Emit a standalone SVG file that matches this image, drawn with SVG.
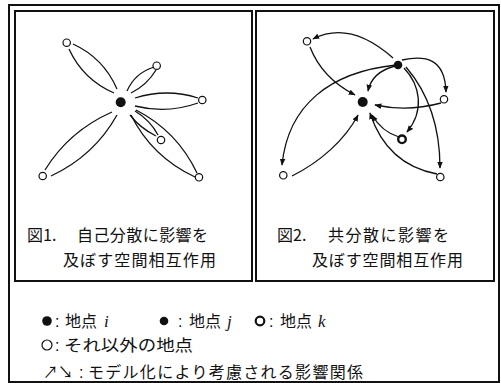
<svg xmlns="http://www.w3.org/2000/svg" width="501" height="383" viewBox="0 0 501 383">
<defs>
<style>
.frame{fill:none;stroke:#111;stroke-width:2}
.lens{fill:none;stroke:#111;stroke-width:1.3}
.arr{fill:none;stroke:#111;stroke-width:1.3;marker-end:url(#ah)}
.open{fill:#fff;stroke:#111;stroke-width:1.2}
.fill{fill:#111}
.ring{fill:#fff;stroke:#111;stroke-width:2.4}
.jp{font-family:"Noto Sans CJK JP","Noto Sans",sans-serif;font-size:16px;fill:#111}
.col{font-family:"Liberation Sans",sans-serif;font-size:16px;fill:#111}
.it{font-family:"Liberation Serif",serif;font-style:italic;font-size:17px;fill:#111}
</style>
<marker id="ah" viewBox="0 0 10 10" refX="9" refY="5" markerWidth="7" markerHeight="7" markerUnits="userSpaceOnUse" orient="auto">
<path d="M0,1 L10,5 L0,9 z" fill="#111"/>
</marker>
</defs>

<rect class="frame" x="9" y="5" width="490" height="377"/>
<rect class="frame" x="15" y="11" width="237" height="270"/>
<rect class="frame" x="256" y="11" width="238" height="270"/>

<!-- Figure 1 -->
<g id="fig1-connectors">
<path class="lens" d="M73,44 Q103.5,58 117,89"/>
<path class="lens" d="M69,49 Q83,79.5 114,93"/>
<path class="lens" d="M154,67 Q135,73 127,91"/>
<path class="lens" d="M156,70 Q147,85 131,93"/>
<path class="lens" d="M198,98 Q167,88 135,98"/>
<path class="lens" d="M198,103 Q167,114 135,106"/>
<path class="lens" d="M156,136 Q140,128 130,115"/>
<path class="lens" d="M158,135 Q150,120 135,111"/>
<path class="lens" d="M195,177 Q152,157 131,115"/>
<path class="lens" d="M197,173 Q177,131 136,110"/>
<path class="lens" d="M51,176 Q94,156 117,115"/>
<path class="lens" d="M45,170 Q69,131 112,112"/>
</g>
<g id="fig1-i"><circle class="fill" cx="120.7" cy="102.3" r="5"/></g>
<g id="fig1-n1"><circle class="open" cx="66.7" cy="42.7" r="3.7"/></g>
<g id="fig1-n2"><circle class="open" cx="156.7" cy="65.7" r="3.7"/></g>
<g id="fig1-n3"><circle class="open" cx="202.3" cy="100" r="3.7"/></g>
<g id="fig1-n4"><circle class="open" cx="161" cy="140" r="3.7"/></g>
<g id="fig1-n5"><circle class="open" cx="199" cy="177.3" r="3.7"/></g>
<g id="fig1-n6"><circle class="open" cx="42.7" cy="176" r="3.7"/></g>
<g id="fig1-caption">
<text class="jp" x="27" y="241">図1.</text>
<text class="jp" x="77" y="241" textLength="131" lengthAdjust="spacing">自己分散に影響を</text>
<text class="jp" x="63" y="266" textLength="153" lengthAdjust="spacing">及ぼす空間相互作用</text>
</g>

<!-- Figure 2 -->
<g id="fig2-connectors">
<path class="arr" d="M393,58 Q350,20 313,39"/>
<path class="arr" d="M310,47 Q322,78 355,95"/>
<path class="arr" d="M402,60 C425,55 445,58 446,92"/>
<path class="arr" d="M441,103 Q408,112 375,105"/>
<path class="arr" d="M395,66 Q372,72 368,91"/>
<path class="arr" d="M396,65 C330,72 288,105 282,165"/>
<path class="arr" d="M292,176 C320,162 345,140 358,115"/>
<path class="arr" d="M404,68 C420,85 425,110 407,132"/>
<path class="arr" d="M406,67 C430,95 440,130 440,168"/>
<path class="arr" d="M399,137 Q382,132 372,115"/>
<path class="arr" d="M437,174 C405,168 382,150 370,113"/>
</g>
<g id="fig2-i"><circle class="fill" cx="362.7" cy="102" r="5"/></g>
<g id="fig2-j"><circle class="fill" cx="398" cy="65" r="4.3"/></g>
<g id="fig2-k"><circle class="ring" cx="402" cy="139.3" r="3.8"/></g>
<g id="fig2-n1"><circle class="open" cx="307" cy="41.3" r="3.7"/></g>
<g id="fig2-n2"><circle class="open" cx="444" cy="99.3" r="3.7"/></g>
<g id="fig2-n3"><circle class="open" cx="283.3" cy="175.3" r="3.7"/></g>
<g id="fig2-n4"><circle class="open" cx="440.3" cy="177" r="3.7"/></g>
<g id="fig2-caption">
<text class="jp" x="277" y="241">図2.</text>
<text class="jp" x="328" y="241" textLength="121" lengthAdjust="spacing">共分散に影響を</text>
<text class="jp" x="312" y="266" textLength="151" lengthAdjust="spacing">及ぼす空間相互作用</text>
</g>

<!-- Legend -->
<g id="legend">
<circle class="fill" cx="47" cy="321" r="4.8"/>
<text class="col" x="55" y="327">:</text>
<text class="jp" x="65" y="327" textLength="32" lengthAdjust="spacingAndGlyphs">地点</text>
<text class="it" x="104" y="327">i</text>
<circle class="fill" cx="164" cy="321" r="4.3"/>
<text class="col" x="178" y="327">:</text>
<text class="jp" x="189" y="327" textLength="32" lengthAdjust="spacingAndGlyphs">地点</text>
<text class="it" x="227" y="327">j</text>
<circle cx="260" cy="321" r="4.3" fill="#fff" stroke="#111" stroke-width="2.2"/>
<text class="col" x="269" y="327">:</text>
<text class="jp" x="280" y="327" textLength="32" lengthAdjust="spacingAndGlyphs">地点</text>
<text class="it" x="318" y="327">k</text>
<circle class="open" cx="47" cy="345" r="5"/>
<text class="col" x="55" y="351">:</text>
<text class="jp" x="64" y="351" textLength="129" lengthAdjust="spacingAndGlyphs">それ以外の地点</text>
<text class="jp" x="43" y="378" textLength="30" lengthAdjust="spacingAndGlyphs">↗↘</text>
<text class="col" x="79" y="378">:</text>
<text class="jp" x="88" y="378" textLength="275" lengthAdjust="spacing">モデル化により考慮される影響関係</text>
</g>
</svg>
